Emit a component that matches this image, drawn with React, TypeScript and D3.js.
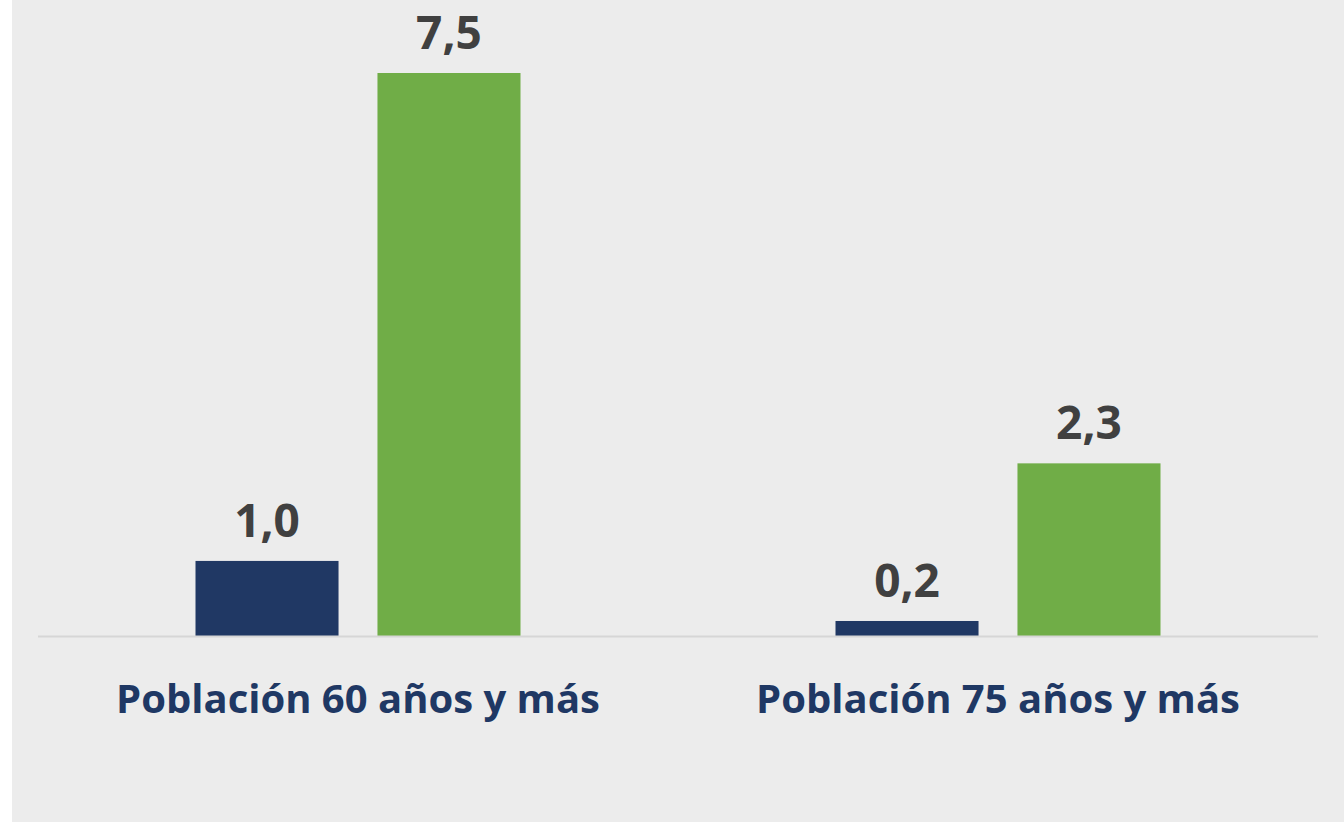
import React from 'react';
import * as d3 from 'd3';

const categories = ['Población 60 años y más', 'Población 75 años y más'];
const series = ['a', 'b'];
const valuesA = [1.0, 0.2];
const valuesB = [7.5, 2.3];

const W = 1344;
const H = 822;
const colors = ['#203864', '#70ad47'];

export default function App() {
  const x = d3.scaleBand().domain(categories).range([38, 1318]).padding(0);
  const y = d3.scaleLinear().domain([0, 7.5]).range([636, 73]);
  const groupW = 325;
  const inner = d3.scaleBand().domain(series).range([0, groupW]).paddingInner(0.214).paddingOuter(0);
  const fmt = (v: number) => v.toFixed(1).replace('.', ',');
  const data = [valuesA, valuesB];

  return (
    <svg width={W} height={H} style={{ position: 'absolute', left: 0, top: 0 }}>
      <rect x={0} y={0} width={W} height={H} fill="#fff" />
      <rect x={12} y={0} width={W - 12} height={H} fill="#ececec" />
      {categories.map((c, i) => {
        const cx = (x(c) as number) + x.bandwidth() / 2;
        const gx = cx - groupW / 2;
        return (
          <g key={c}>
            {series.map((s, j) => {
              const v = data[j][i];
              const bx = gx + (inner(s) as number);
              return (
                <g key={s}>
                  <rect x={bx} y={y(v)} width={inner.bandwidth()} height={y(0) - y(v)} fill={colors[j]} />
                  <text
                    x={bx + inner.bandwidth() / 2}
                    y={y(v) - 24}
                    textAnchor="middle"
                    fontFamily="'Open Sans', sans-serif"
                    fontWeight="bold"
                    fontSize={46}
                    fill="#404040"
                  >
                    {fmt(v)}
                  </text>
                </g>
              );
            })}
            <text
              x={cx}
              y={713}
              textAnchor="middle"
              fontFamily="'Open Sans', sans-serif"
              fontWeight="bold"
              fontSize={40}
              fill="#1f3864"
            >
              {c}
            </text>
          </g>
        );
      })}
      <line x1={38} x2={1318} y1={y(0) + 0.5} y2={y(0) + 0.5} stroke="#d6d6d6" strokeWidth={2} />
    </svg>
  );
}
